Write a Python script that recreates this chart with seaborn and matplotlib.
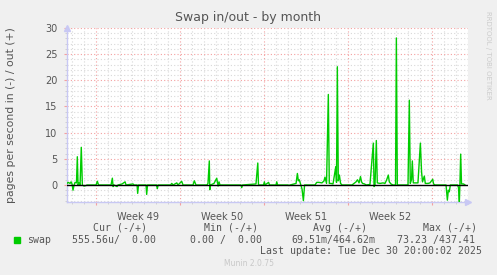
import numpy as np
import pandas as pd
import matplotlib
matplotlib.use("Agg")
import matplotlib.pyplot as plt
import matplotlib.transforms as mtransforms
import seaborn as sns

# ---------------- data ----------------
# time in days since Mon 1 Dec 2025 00:00; value in pages/s (negative = in, positive = out)
days = [-2.42, -2.33, -2.17, -2.08, -2.00, -1.92, -1.83, -1.75, -1.63, -1.56,
        -1.50, -1.42, -1.33, -1.23, -1.14, -1.00, -0.83, -0.75, -0.67, 0.00,
        0.11, 0.21, 1.25, 1.36, 1.42, 1.50, 1.75, 1.83, 2.17, 2.42,
        2.50, 3.08, 3.17, 3.42, 3.47, 3.54, 4.17, 4.22, 4.29, 5.04,
        5.11, 5.17, 6.21, 6.31, 6.42, 6.73, 6.83, 7.14, 7.25, 8.08,
        8.19, 8.33, 9.25, 9.33, 9.44, 9.48, 9.54, 9.83, 10.06, 10.13,
        10.17, 10.25, 10.33, 12.08, 12.14, 12.21, 13.33, 13.48, 13.54, 13.96,
        14.03, 14.08, 14.38, 14.46, 15.00, 15.06, 15.13, 16.00, 16.08, 16.17,
        16.67, 16.78, 16.86, 16.94, 17.04, 17.17, 17.28, 17.38, 18.25, 18.39,
        18.58, 18.83, 19.00, 19.08, 19.21, 19.36, 19.44, 19.58, 19.75, 19.98,
        20.04, 20.11, 20.19, 20.28, 20.38, 20.50, 21.33, 21.50, 21.67, 21.79,
        21.92, 22.04, 22.13, 22.21, 22.38, 22.50, 22.83, 23.11, 23.17, 23.25,
        23.36, 23.44, 23.67, 23.92, 24.08, 24.21, 24.36, 24.44, 24.58, 24.75,
        24.96, 25.03, 25.11, 26.00, 26.11, 26.19, 26.29, 26.36, 26.44, 26.83,
        27.03, 27.13, 27.21, 27.36, 27.44, 27.67, 27.83, 28.06, 28.13, 28.25,
        29.17, 29.28, 29.36, 29.44, 29.53, 30.13, 30.21, 30.28, 30.33, 30.39,
        30.46, 30.63, 30.75]
swap = [0.3, 0.5, 0.3, 0.6, 0.2, -1.0, 0.0, 0.5, 0.4, 5.4,
        0.0, 0.4, 0.0, 7.2, 0.0, -0.2, -0.1, 0.0, 0.0, 0.0,
        0.7, 0.0, 0.0, 1.3, -0.3, 0.0, -0.3, 0.0, 0.2, 0.6,
        0.0, 0.2, 0.0, 0.0, -1.6, 0.0, 0.0, -1.8, 0.0, 0.0,
        -0.7, 0.0, 0.0, 0.3, 0.0, 0.4, 0.0, 0.7, 0.0, 0.0,
        0.8, 0.0, 0.0, 0.3, 4.6, -0.9, 0.0, 0.3, 1.3, 0.3,
        -0.2, 0.6, 0.0, 0.0, -0.5, 0.0, 0.2, 4.2, 0.0, 0.0,
        0.6, 0.0, 0.5, 0.0, 0.0, 0.6, 0.0, 0.0, -0.1, 0.0,
        0.3, 2.2, 0.8, 1.0, 0.2, -0.8, -3.0, 0.0, 0.0, 0.5,
        0.5, 0.4, 0.8, 1.5, 0.3, 17.3, 0.3, 0.3, 0.2, 3.5,
        0.5, 22.6, 0.8, 1.9, 0.3, 0.0, 0.0, 0.3, 0.6, 1.0,
        0.4, 1.6, 0.6, 0.3, 0.2, 0.0, 0.1, 8.0, -0.3, 0.0,
        8.5, 0.4, 0.3, 0.4, 0.3, 0.9, 1.9, 0.6, 0.2, 0.0,
        0.0, 28.1, 0.0, 0.0, 16.2, 0.3, 1.0, 4.6, 0.4, 0.4,
        8.0, 2.5, 0.6, 1.7, 0.3, 0.3, 0.4, 1.1, 0.2, 0.0,
        0.0, -2.9, -1.0, -1.3, 0.0, 0.0, -0.5, -3.2, 0.5, 5.9,
        0.2, 0.2, 0.0]

week_starts = [0, 7, 14, 21, 28]
week_mids = [3.5, 10.5, 17.5, 24.5]
week_labels = ["Week 49", "Week 50", "Week 51", "Week 52"]
yticks = [0, 5, 10, 15, 20, 25, 30]

series_name = "swap"
legend_headers = ["Cur (-/+)", "Min (-/+)", "Avg (-/+)", "Max (-/+)"]
legend_values = ["555.56u/  0.00", "0.00 /  0.00", "69.51m/464.62m", "73.23 /437.41"]
last_update = "Last update: Tue Dec 30 20:00:02 2025"
title = "Swap in/out - by month"
ylabel = "pages per second in (-) / out (+)"

df = pd.DataFrame({"day": days, "value": swap})

# ---------------- figure ----------------
W, H = 497, 275
BG = "#f0f0f0"
TXT = "#555555"
GREEN = "#00cc00"
AXC = "#c8c8f4"
fig = plt.figure(figsize=(W / 100, H / 100), dpi=100, facecolor=BG)

def px(x, y):
    return x / W, 1 - y / H

L, R, T, B = 67, 468, 28, 202
ax = fig.add_axes([L / W, 1 - B / H, (R - L) / W, (B - T) / H])
ax.set_facecolor("white")

sns.lineplot(data=df, x="day", y="value", ax=ax, color=GREEN, lw=1.0,
             sort=True, estimator=None, zorder=3, legend=False)
ax.axhline(0, color="black", lw=1.0, zorder=4)

ax.set_xlim(-2.42, 31.0)
ax.set_ylim(-3.25, 30)

# grid
ax.set_yticks(yticks)
ax.set_yticks(np.arange(-3, 31, 1), minor=True)
ax.set_xticks(week_starts)
ax.set_xticklabels([""] * len(week_starts))
ax.set_xticks(np.arange(-2, 32, 1), minor=True)
ax.grid(which="minor", color="#d8d8d8", lw=0.8, ls=(0, (1, 2)), zorder=0)
ax.grid(which="major", color="#f4a0a0", lw=0.8, ls=(0, (1, 2)), zorder=1)
ax.set_axisbelow(True)

ax.tick_params(axis="y", which="major", length=2, color="#f4a0a0", labelsize=7,
               labelcolor=TXT, pad=5)
ax.tick_params(axis="y", which="minor", length=1.5, color="#cccccc")
ax.tick_params(axis="x", which="major", length=2, color="#f4a0a0", pad=2)
ax.tick_params(axis="x", which="minor", length=1.5, color="#cccccc")

trans = mtransforms.blended_transform_factory(ax.transData, ax.transAxes)
for m, lab in zip(week_mids, week_labels):
    ax.text(m, -0.055, lab, transform=trans, ha="center", va="top",
            fontsize=7, color=TXT)

for s in ["top", "right"]:
    ax.spines[s].set_visible(False)
for s in ["left", "bottom"]:
    ax.spines[s].set_color(AXC)
    ax.spines[s].set_linewidth(1.0)
ax.plot([0], [1.0], marker="^", ms=4, color=AXC, transform=ax.transAxes,
        clip_on=False, zorder=5)
ax.plot([1.0], [0], marker=">", ms=4, color=AXC, transform=ax.transAxes,
        clip_on=False, zorder=5)
ax.set_xlabel("")
ax.set_ylabel("")

# texts
fig.text(*px(248, 18), title, ha="center", va="center", fontsize=9, color=TXT)
fig.text(*px(11, 115), ylabel, ha="center", va="center", rotation=90,
         fontsize=7.8, color=TXT)
fig.text(*px(488, 55), "RRDTOOL / TOBI OETIKER", ha="center", va="center",
         rotation=270, fontsize=5, color="#cccccc")

mono = "DejaVu Sans Mono"
for x, h in zip([93, 204, 313, 423], legend_headers):
    fig.text(*px(x, 228), h, ha="left", va="center", family=mono, fontsize=7.1, color=TXT)
fig.patches.append(plt.Rectangle(px(14, 243), 6 / W, 6 / H, transform=fig.transFigure,
                                 color=GREEN, figure=fig))
fig.text(*px(27, 240), series_name, ha="left", va="center", family=mono, fontsize=7.1, color=TXT)
for x, v in zip([72, 190, 291, 397], legend_values):
    fig.text(*px(x, 240), v, ha="left", va="center", family=mono, fontsize=7.1, color=TXT)
fig.text(*px(482, 251), last_update, ha="right", va="center", family=mono,
         fontsize=7.1, color=TXT)
fig.text(*px(249, 264), "Munin 2.0.75", ha="center", va="center", fontsize=5.5,
         color="#c8c8c8")

fig.savefig("out.png", dpi=100, facecolor=BG)
